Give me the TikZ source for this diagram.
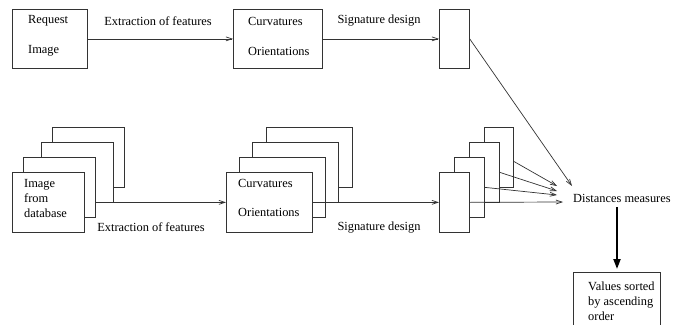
\documentclass[tikz,border=0pt]{standalone}
\usepackage{fontspec}
\setmainfont{Liberation Serif}
\usetikzlibrary{arrows.meta}

\begin{document}
\begin{tikzpicture}[x=1pt,y=-1pt,
  every node/.style={font=\fontsize{12.4}{15}\selectfont},
  frame/.style={draw=black!80, line width=0.7pt, fill=white, minimum height=60pt, inner sep=0pt, anchor=north west},
  txt/.style={anchor=west, inner sep=0pt, align=left},
  link/.style={draw=black!80, line width=0.7pt, -{Straight Barb[length=6pt,width=4pt]}},
  bigarrow/.style={draw=black, line width=2pt, -{Triangle[length=10pt,width=7pt]}}]
\useasboundingbox (0,0) rectangle (682,324);
\clip (0,0) rectangle (682,324);

\node[frame, minimum width=75pt, minimum height=59pt] (req) at (12,9) {};
\node[txt] (reqa) at (28,21) {Request};
\node[txt] (reqb) at (28,51) {Image};
\node[frame, minimum width=89pt, minimum height=59pt] (cur) at (233,9) {};
\node[txt] (cura) at (248,21) {Curvatures};
\node[txt] (curb) at (248,51) {Orientations};
\node[frame, minimum width=30pt, minimum height=59pt] (sig) at (439,9) {};
\draw[link] (req) -- (cur);
\draw[link] (cur) -- (sig);
\node (ext1) at (158,21) {Extraction of features};
\node (sgd1) at (379,21) {Signature design};

\node[frame, minimum width=72pt] (img4) at (52,127) {};
\node[frame, minimum width=72pt] (img3) at (41,142) {};
\node[frame, minimum width=72pt] (img2) at (23,157) {};
\node[frame, minimum width=72pt] (img1) at (12,172) {};
\node[txt] (imgt) at (24,198) {Image\\from\\database};

\node[frame, minimum width=86pt] (cv4) at (266,127) {};
\node[frame, minimum width=86pt] (cv3) at (252,142) {};
\node[frame, minimum width=86pt] (cv2) at (239,157) {};
\node[frame, minimum width=86pt] (cv1) at (226,172) {};
\node[txt] (cva) at (238,183) {Curvatures};
\node[txt] (cvb) at (238,212) {Orientations};

\node[frame, minimum width=29pt] (sg4) at (484,127) {};
\node[frame, minimum width=30pt] (sg3) at (469,142) {};
\node[frame, minimum width=30pt] (sg2) at (454,157) {};
\node[frame, minimum width=30pt] (sg1) at (439,172) {};

\draw[link] (img2.east |- cv1.west) -- (cv1.west);
\draw[link] (cv1.east) -- (sg1.west);
\node (ext2) at (151,227) {Extraction of features};
\node (sgd2) at (379,228) {Signature design};

\node[txt] (dist) at (573,198) {Distances measures};
\draw[link] (sig.east) -- ([shift={(-1,-12)}]dist.west);
\draw[link] ([yshift=-4pt]sg4.east) -- ([shift={(-16,-12)}]dist.west);
\draw[link] (sg3.east) -- ([shift={(-16,-7)}]dist.west);
\draw[link] (sg2.east) -- ([shift={(-16,-3)}]dist.west);
\draw[link] (sg1.east) -- ([shift={(-10,4)}]dist.west);

\node[frame, minimum width=87pt] (val) at (573,272) {};
\node[txt] (valt) at (588,301) {Values sorted\\by ascending\\order};
\coordinate (dm) at (617,207);
\draw[bigarrow, shorten >=3pt] (dm) -- (dm |- val.north);

\end{tikzpicture}
\end{document}
